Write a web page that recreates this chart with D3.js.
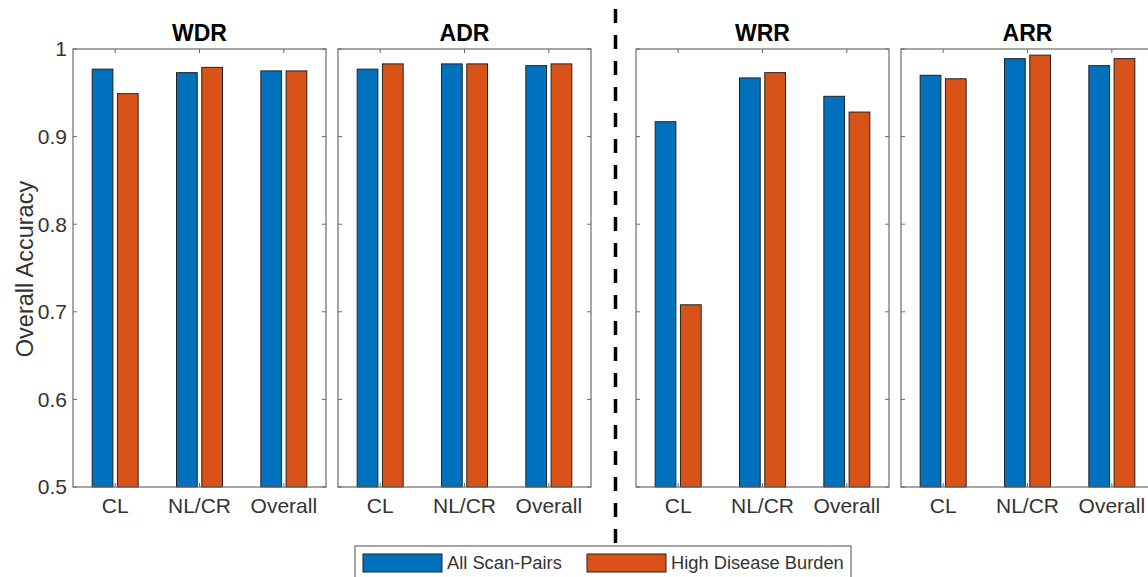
<!DOCTYPE html>
<html><head><meta charset="utf-8">
<script src="https://cdn.jsdelivr.net/npm/d3@7"></script>
<style>html,body{margin:0;padding:0;background:#fff;}svg{display:block;}</style>
</head><body>
<script>
const panels = ["WDR", "ADR", "WRR", "ARR"];
const categories = ["CL", "NL/CR", "Overall"];
const seriesNames = ["All Scan-Pairs", "High Disease Burden"];
const allScanPairs = [
  [0.977, 0.973, 0.975],
  [0.977, 0.983, 0.981],
  [0.917, 0.967, 0.946],
  [0.970, 0.989, 0.981]
];
const highDiseaseBurden = [
  [0.949, 0.979, 0.975],
  [0.983, 0.983, 0.983],
  [0.708, 0.973, 0.928],
  [0.966, 0.993, 0.989]
];
const yTicks = [0.5, 0.6, 0.7, 0.8, 0.9, 1];
const colors = ["#0072BD", "#D95319"];

(function () {
const W = 1148, H = 577;
const svg = d3.select("body").append("svg").attr("width", W).attr("height", H)
  .style("font-family", "Arial, 'Liberation Sans', Helvetica, sans-serif");

const panelLeft = [73, 338, 636, 901];
const panelW = 253;
const plotTop = 49, plotBottom = 487;
const y = d3.scaleLinear().domain([0.5, 1]).range([plotBottom, plotTop]);
const axisColor = "#6b6b6b";
const textColor = "#333";

panels.forEach((name, pi) => {
  const x0 = panelLeft[pi];
  const x = d3.scaleBand().domain(categories).range([x0, x0 + panelW]).padding(0);
  const xs = d3.scaleBand().domain(seriesNames).range([-23, 23]).paddingInner(0.18);
  const g = svg.append("g");
  const data = [allScanPairs[pi], highDiseaseBurden[pi]];

  categories.forEach((c, ci) => {
    seriesNames.forEach((s, si) => {
      const v = data[si][ci];
      const cx = x(c) + x.bandwidth() / 2;
      g.append("rect")
        .attr("x", cx + xs(s))
        .attr("y", y(v))
        .attr("width", xs.bandwidth())
        .attr("height", y(0.5) - y(v))
        .attr("fill", colors[si])
        .attr("stroke", "#222")
        .attr("stroke-width", 1);
    });
  });

  g.append("rect").attr("x", x0).attr("y", plotTop).attr("width", panelW).attr("height", plotBottom - plotTop)
    .attr("fill", "none").attr("stroke", axisColor).attr("stroke-width", 1.2);

  yTicks.forEach(t => {
    g.append("line").attr("x1", x0).attr("x2", x0 + 4).attr("y1", y(t)).attr("y2", y(t)).attr("stroke", axisColor);
    g.append("line").attr("x1", x0 + panelW).attr("x2", x0 + panelW - 4).attr("y1", y(t)).attr("y2", y(t)).attr("stroke", axisColor);
  });
  categories.forEach(c => {
    const cx = x(c) + x.bandwidth() / 2;
    g.append("line").attr("x1", cx).attr("x2", cx).attr("y1", plotTop).attr("y2", plotTop + 4).attr("stroke", axisColor);
    g.append("line").attr("x1", cx).attr("x2", cx).attr("y1", plotBottom).attr("y2", plotBottom - 4).attr("stroke", axisColor);
    g.append("text").attr("x", cx).attr("y", 513).attr("text-anchor", "middle")
      .attr("font-size", 21).attr("fill", textColor).text(c);
  });

  g.append("text").attr("x", x0 + panelW / 2).attr("y", 41).attr("text-anchor", "middle")
    .attr("font-size", 23).attr("font-weight", "bold").attr("fill", "#000").text(name);

  if (pi === 0) {
    yTicks.forEach(t => {
      g.append("text").attr("x", x0 - 6).attr("y", y(t)).attr("dy", "0.35em").attr("text-anchor", "end")
        .attr("font-size", 21).attr("fill", textColor).text(d3.format("")(t));
    });
  }
});

svg.append("text").attr("transform", `translate(33,${(plotTop + plotBottom) / 2 + 1}) rotate(-90)`)
  .attr("text-anchor", "middle").attr("font-size", 23.5).attr("fill", textColor).text("Overall Accuracy");

svg.append("line").attr("x1", 615.5).attr("x2", 615.5).attr("y1", 9).attr("y2", 562)
  .attr("stroke", "#000").attr("stroke-width", 3.5).attr("stroke-dasharray", "14,12");

const lg = svg.append("g");
lg.append("rect").attr("x", 355).attr("y", 546).attr("width", 496).attr("height", 36)
  .attr("fill", "#fff").attr("stroke", axisColor).attr("stroke-width", 1.2);
const legendX = [363, 587];
seriesNames.forEach((s, i) => {
  lg.append("rect").attr("x", legendX[i]).attr("y", 554).attr("width", 79).attr("height", 18)
    .attr("fill", colors[i]).attr("stroke", "#222");
  lg.append("text").attr("x", legendX[i] + 84).attr("y", 563).attr("dy", "0.35em")
    .attr("font-size", 18.3).attr("fill", textColor).text(s);
});
})();
</script>
</body></html>
